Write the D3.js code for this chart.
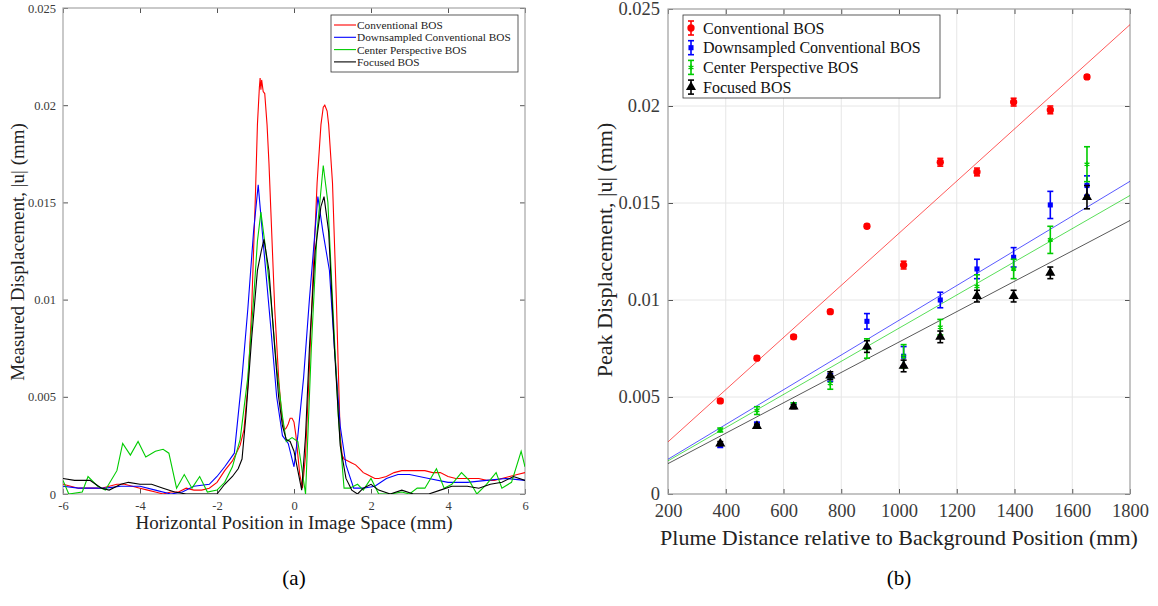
<!DOCTYPE html>
<html>
<head>
<meta charset="utf-8">
<script src="https://cdn.jsdelivr.net/npm/d3@7/dist/d3.min.js"></script>
<style>
  body { margin: 0; background: #fff; }
  svg { display: block; font-family: "Liberation Serif", "Times New Roman", serif; }
</style>
</head>
<body>
<div id="chart"></div>
<script>
// ---- panel (a): displacement profiles ----
const seriesNames = ["Conventional BOS", "Downsampled Conventional BOS", "Center Perspective BOS", "Focused BOS"];
const seriesColors = ["#ff0000", "#0000ff", "#00cc00", "#000000"];

const convX = [-6.0,-5.8,-5.6,-5.4,-5.2,-5.0,-4.8,-4.6,-4.4,-4.2,-4.0,-3.8,-3.6,-3.4,-3.2,-3.0,-2.8,-2.6,-2.4,-2.2,-2.0,-1.8,-1.6,-1.5,-1.4,-1.3,-1.2,-1.1,-1.0,-0.95,-0.9,-0.88,-0.86,-0.84,-0.8,-0.76,-0.7,-0.65,-0.6,-0.5,-0.4,-0.32,-0.25,-0.2,-0.15,-0.1,-0.05,0.0,0.05,0.1,0.15,0.22,0.3,0.4,0.5,0.6,0.7,0.76,0.8,0.86,0.9,1.0,1.1,1.2,1.25,1.3,1.4,1.5,1.6,1.7,1.8,1.9,2.0,2.1,2.2,2.4,2.6,2.8,3.0,3.2,3.4,3.6,3.8,4.0,4.2,4.4,4.6,4.8,5.0,5.2,5.4,5.6,5.8,6.0];
const convY = [0.0005,0.0004,0.0003,0.0003,0.0003,0.0003,0.0004,0.0005,0.0005,0.0004,0.0003,0.0002,0.0001,0.0000,0.0001,0.0001,0.0003,0.0002,0.0002,0.0003,0.0006,0.0012,0.0017,0.0021,0.0025,0.0033,0.0055,0.0095,0.0155,0.0190,0.0209,0.0214,0.0208,0.0213,0.0207,0.0206,0.0190,0.0170,0.0145,0.0095,0.0060,0.0040,0.0033,0.0034,0.0036,0.0039,0.0039,0.0037,0.0030,0.0020,0.0010,0.0003,0.0020,0.0065,0.0115,0.0160,0.0190,0.0199,0.0200,0.0197,0.0190,0.0160,0.0100,0.0030,0.0020,0.0018,0.0017,0.0016,0.0015,0.0013,0.0011,0.0010,0.0009,0.0008,0.0008,0.0009,0.0011,0.0012,0.0012,0.0012,0.0012,0.0011,0.0011,0.0009,0.0008,0.0008,0.0008,0.0008,0.0007,0.0007,0.0008,0.0009,0.0010,0.0011];

const downX = [-6.0,-5.6,-5.2,-4.9,-4.5,-4.0,-3.6,-3.2,-2.9,-2.6,-2.2,-2.0,-1.8,-1.55,-1.35,-1.2,-1.05,-0.93,-0.78,-0.6,-0.45,-0.3,-0.15,0.0,0.1,0.25,0.4,0.62,0.75,0.92,1.05,1.2,1.35,1.55,1.8,2.1,2.4,2.7,3.0,3.5,4.0,4.5,5.0,5.5,6.0];
const downY = [0.0004,0.0003,0.0003,0.0003,0.0004,0.0004,0.0002,0.0000,0.0001,0.0004,0.0005,0.0009,0.0014,0.0021,0.0060,0.0095,0.0135,0.0159,0.0125,0.0085,0.0050,0.0030,0.0026,0.0014,0.0030,0.0060,0.0100,0.0153,0.0135,0.0115,0.0075,0.0035,0.0015,0.0003,0.0003,0.0004,0.0008,0.0010,0.0010,0.0008,0.0006,0.0006,0.0007,0.0008,0.0007];

const centX = [-6.0,-5.85,-5.5,-5.35,-5.1,-4.9,-4.6,-4.45,-4.25,-4.05,-3.85,-3.6,-3.4,-3.25,-3.05,-2.85,-2.65,-2.45,-2.25,-2.0,-1.8,-1.6,-1.4,-1.2,-1.05,-0.95,-0.86,-0.75,-0.6,-0.45,-0.3,-0.2,-0.05,0.1,0.3,0.45,0.6,0.76,0.88,1.0,1.15,1.3,1.45,1.65,1.8,2.0,2.2,2.5,2.8,3.0,3.2,3.4,3.7,3.9,4.1,4.35,4.55,4.75,5.0,5.25,5.4,5.65,5.9,6.0];
const centY = [0.0007,0.0000,0.0001,0.0009,0.0004,0.0002,0.0012,0.0026,0.0020,0.0027,0.0019,0.0022,0.0023,0.0021,0.0003,0.0010,0.0003,0.0009,0.0001,0.0002,0.0006,0.0014,0.0028,0.0060,0.0100,0.0130,0.0145,0.0128,0.0100,0.0065,0.0040,0.0027,0.0029,0.0027,0.0000,0.0075,0.0135,0.0169,0.0150,0.0100,0.0040,0.0003,0.0003,0.0005,0.0002,0.0008,0.0000,0.0000,0.0001,0.0000,0.0003,0.0003,0.0013,0.0003,0.0005,0.0011,0.0007,0.0000,0.0005,0.0011,0.0003,0.0006,0.0022,0.0014];

const focX = [-6.0,-5.7,-5.3,-5.0,-4.8,-4.5,-4.3,-4.0,-3.7,-3.4,-3.1,-2.8,-2.4,-2.0,-1.8,-1.6,-1.45,-1.35,-1.25,-1.1,-0.95,-0.85,-0.78,-0.65,-0.5,-0.4,-0.3,-0.2,-0.1,0.0,0.1,0.2,0.3,0.4,0.55,0.7,0.78,0.9,1.05,1.2,1.35,1.5,1.65,1.8,2.0,2.2,2.5,2.8,3.1,3.5,3.8,4.1,4.5,4.8,5.1,5.4,5.7,6.0];
const focY = [0.0008,0.0007,0.0007,0.0003,0.0002,0.0005,0.0006,0.0005,0.0005,0.0003,0.0001,0.0000,0.0000,0.0000,0.0005,0.0009,0.0013,0.0018,0.0040,0.0080,0.0115,0.0125,0.0131,0.0115,0.0075,0.0050,0.0035,0.0028,0.0027,0.0022,0.0012,0.0002,0.0030,0.0075,0.0125,0.0148,0.0153,0.0135,0.0075,0.0025,0.0008,0.0002,0.0000,0.0003,0.0005,0.0002,0.0000,0.0002,0.0000,0.0000,0.0002,0.0004,0.0004,0.0003,0.0005,0.0006,0.0009,0.0007];

const xTicksA = [-6, -4, -2, 0, 2, 4, 6];
const yTicksA = [0, 0.005, 0.01, 0.015, 0.02, 0.025];
const yTickLabelsA = ["0", "0.005", "0.01", "0.015", "0.02", "0.025"];

// ---- panel (b): peak displacement vs distance ----
const distances = [381, 508, 635, 762, 889, 1016, 1143, 1270, 1397, 1524, 1651];
const convPeak = [0.0048, 0.0070, 0.0081, 0.0094, 0.0138, 0.0118, 0.0171, 0.0166, 0.0202, 0.0198, 0.0215];
const convErr  = [0.0001, 0.0001, 0.0001, 0.0001, 0.0001, 0.0002, 0.0002, 0.0002, 0.0002, 0.0002, 0.0001];
const downPeak = [0.0025, 0.0036, 0.0046, 0.0060, 0.0089, 0.0071, 0.0100, 0.0116, 0.0122, 0.0149, 0.0159];
const downErr  = [0.0001, 0.0001, 0.0001, 0.0002, 0.0004, 0.0005, 0.0004, 0.0005, 0.0005, 0.0007, 0.0005];
const centPeak = [0.0033, 0.0043, 0.0046, 0.0057, 0.0075, 0.0071, 0.0086, 0.0107, 0.0116, 0.0131, 0.0170];
const centErr  = [0.0001, 0.0002, 0.0001, 0.0003, 0.0005, 0.0006, 0.0004, 0.0006, 0.0005, 0.0007, 0.0009];
const focPeak  = [0.0026, 0.0035, 0.0045, 0.0061, 0.0076, 0.0066, 0.0081, 0.0102, 0.0102, 0.0114, 0.0153];
const focErr   = [0.0001, 0.0001, 0.0001, 0.0002, 0.0003, 0.0003, 0.0003, 0.0003, 0.0003, 0.0003, 0.0006];

const xTicksB = [200, 400, 600, 800, 1000, 1200, 1400, 1600, 1800];
const yTicksB = [0, 0.005, 0.01, 0.015, 0.02, 0.025];
const yTickLabelsB = ["0", "0.005", "0.01", "0.015", "0.02", "0.025"];

const linesA = [[convX, convY], [downX, downY], [centX, centY], [focX, focY]];
const pointsB = [[convPeak, convErr], [downPeak, downErr], [centPeak, centErr], [focPeak, focErr]];
const markers = [d3.symbolCircle, d3.symbolSquare, d3.symbolAsterisk, d3.symbolTriangle];
const markerSizes = [42, 26, 22, 44];

const svg = d3.select("#chart").append("svg").attr("width", 1158).attr("height", 606);
svg.append("rect").attr("width", 1158).attr("height", 606).attr("fill", "#fff");

const boxColor = "#a6a6a6";
const textColor = "#3a3a3a";

function frame(g, x, y, xt, yt, yl, fs, padX, padY, grid) {
  const [x0, x1] = x.range();
  const [y1, y0] = y.range();
  if (grid) {
    g.append("g").selectAll("line").data(xt).join("line")
      .attr("x1", d => x(d)).attr("x2", d => x(d)).attr("y1", y0).attr("y2", y1)
      .attr("stroke", "#e6e6e6");
    g.append("g").selectAll("line").data(yt).join("line")
      .attr("y1", d => y(d)).attr("y2", d => y(d)).attr("x1", x0).attr("x2", x1)
      .attr("stroke", "#e6e6e6");
  }
  const axes = [
    d3.axisBottom(x).tickValues(xt).tickFormat(d => d).tickPadding(padX),
    d3.axisTop(x).tickValues(xt).tickFormat(""),
    d3.axisLeft(y).tickValues(yt).tickFormat((d, i) => yl[i]).tickPadding(padY),
    d3.axisRight(y).tickValues(yt).tickFormat("")
  ];
  const pos = [`translate(0,${y1})`, `translate(0,${y0})`, `translate(${x0},0)`, `translate(${x1},0)`];
  axes.forEach((a, i) => {
    const ag = g.append("g").attr("transform", pos[i])
      .call(a.tickSize(-5).tickSizeOuter(0));
    ag.select(".domain").remove();
    ag.selectAll(".tick line").attr("stroke", "#555");
    ag.selectAll(".tick text").attr("fill", textColor).style("font-size", fs + "px")
      .style("font-family", "Liberation Serif, serif");
  });
  g.append("rect").attr("x", x0).attr("y", y0).attr("width", x1 - x0).attr("height", y1 - y0)
    .attr("fill", "none").attr("stroke", boxColor).attr("stroke-width", 1.2);
}

// panel (a)
const xA = d3.scaleLinear().domain([-6, 6]).range([63, 525]);
const yA = d3.scaleLinear().domain([0, 0.025]).range([494, 8]);
const gA = svg.append("g");
frame(gA, xA, yA, xTicksA, yTicksA, yTickLabelsA, 12.5, 7, 7, false);

svg.append("clipPath").attr("id", "clipA").append("rect")
  .attr("x", 63).attr("y", 8).attr("width", 462).attr("height", 486);
const lineA = d3.line().x(d => xA(d[0])).y(d => yA(d[1]));
linesA.forEach(([xs, ys], i) => {
  gA.append("path").attr("clip-path", "url(#clipA)")
    .attr("d", lineA(xs.map((v, j) => [v, ys[j]])))
    .attr("fill", "none").attr("stroke", seriesColors[i]).attr("stroke-width", 1.1);
});

const legA = gA.append("g").attr("transform", "translate(331,15)");
legA.append("rect").attr("width", 187).attr("height", 57).attr("fill", "#fff").attr("stroke", "#333").attr("stroke-width", 0.8);
seriesNames.forEach((n, i) => {
  const yy = 10 + i * 12.3;
  legA.append("line").attr("x1", 3).attr("x2", 25).attr("y1", yy).attr("y2", yy)
    .attr("stroke", seriesColors[i]).attr("stroke-width", 1.1);
  legA.append("text").attr("x", 26).attr("y", yy + 4).text(n)
    .style("font-size", "11.3px").attr("fill", "#222");
});

gA.append("text").attr("x", 294).attr("y", 529).attr("text-anchor", "middle")
  .style("font-size", "19px").attr("fill", "#222").text("Horizontal Position in Image Space (mm)");
gA.append("text").attr("transform", "translate(24,252) rotate(-90)").attr("text-anchor", "middle")
  .style("font-size", "19px").attr("fill", "#222").text("Measured Displacement, |u| (mm)");

// panel (b)
const xB = d3.scaleLinear().domain([200, 1800]).range([668, 1130]);
const yB = d3.scaleLinear().domain([0, 0.025]).range([494, 9]);
const gB = svg.append("g");
frame(gB, xB, yB, xTicksB, yTicksB, yTickLabelsB, 18.5, 10, 8, true);

// fits through the origin (least squares)
pointsB.forEach(([vals], i) => {
  const k = d3.sum(distances, (d, j) => d * vals[j]) / d3.sum(distances, d => d * d);
  gB.append("line")
    .attr("x1", xB(200)).attr("y1", yB(k * 200)).attr("x2", xB(1800)).attr("y2", yB(k * 1800))
    .attr("stroke", seriesColors[i]).attr("stroke-opacity", 0.65).attr("stroke-width", 1);
});

pointsB.forEach(([vals, errs], i) => {
  const s = gB.append("g");
  distances.forEach((d, j) => {
    const cx = xB(d), top = yB(vals[j] + errs[j]), bot = yB(vals[j] - errs[j]);
    s.append("line").attr("x1", cx).attr("x2", cx).attr("y1", top).attr("y2", bot)
      .attr("stroke", seriesColors[i]).attr("stroke-width", 1.6);
    [top, bot].forEach(yy => s.append("line").attr("x1", cx - 3).attr("x2", cx + 3)
      .attr("y1", yy).attr("y2", yy).attr("stroke", seriesColors[i]).attr("stroke-width", 1.6));
    const m = s.append("path").attr("transform", `translate(${cx},${yB(vals[j])})`)
      .attr("d", d3.symbol(markers[i], markerSizes[i])());
    if (i === 2) m.attr("fill", "none").attr("stroke", seriesColors[i]).attr("stroke-width", 1.4);
    else m.attr("fill", seriesColors[i]);
  });
});

const legB = gB.append("g").attr("transform", "translate(683,15)");
legB.append("rect").attr("width", 257).attr("height", 83).attr("fill", "#fff").attr("stroke", "#333").attr("stroke-width", 0.8);
seriesNames.forEach((n, i) => {
  const yy = 13 + i * 19.7;
  const cx = 8;
  legB.append("line").attr("x1", cx).attr("x2", cx).attr("y1", yy - 7).attr("y2", yy + 7)
    .attr("stroke", seriesColors[i]).attr("stroke-width", 1.6);
  [yy - 7, yy + 7].forEach(v => legB.append("line").attr("x1", cx - 3).attr("x2", cx + 3)
    .attr("y1", v).attr("y2", v).attr("stroke", seriesColors[i]).attr("stroke-width", 1.6));
  const m = legB.append("path").attr("transform", `translate(${cx},${yy})`)
    .attr("d", d3.symbol(markers[i], markerSizes[i])());
  if (i === 2) m.attr("fill", "none").attr("stroke", seriesColors[i]).attr("stroke-width", 1.4);
  else m.attr("fill", seriesColors[i]);
  legB.append("text").attr("x", 20).attr("y", yy + 5.5).text(n)
    .style("font-size", "16px").attr("fill", "#111");
});

gB.append("text").attr("x", 899).attr("y", 545).attr("text-anchor", "middle")
  .style("font-size", "22px").attr("fill", "#222").text("Plume Distance relative to Background Position (mm)");
gB.append("text").attr("transform", "translate(612,250) rotate(-90)").attr("text-anchor", "middle")
  .style("font-size", "22px").attr("fill", "#222").text("Peak Displacement, |u| (mm)");

// captions
svg.append("text").attr("x", 294).attr("y", 585).attr("text-anchor", "middle")
  .style("font-size", "21px").attr("fill", "#000").text("(a)");
svg.append("text").attr("x", 899).attr("y", 585).attr("text-anchor", "middle")
  .style("font-size", "21px").attr("fill", "#000").text("(b)");
</script>
</body>
</html>
